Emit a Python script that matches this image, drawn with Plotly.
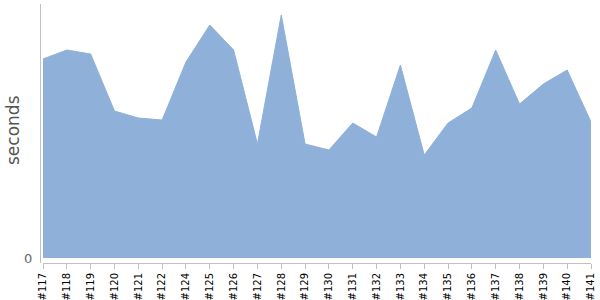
import plotly.graph_objects as go

builds = ["#117", "#118", "#119", "#120", "#121", "#122", "#124", "#125", "#126",
          "#127", "#128", "#129", "#130", "#131", "#132", "#133", "#134", "#135",
          "#136", "#137", "#138", "#139", "#140", "#141"]
seconds = [199, 208, 204, 147, 140, 138, 196, 233, 208, 114, 243, 114, 108, 135,
           121, 193, 103, 135, 150, 208, 154, 174, 188, 136]

W, H = 600, 300
fig = go.Figure()
fig.add_trace(go.Scatter(
    x=list(range(len(builds))), y=seconds, mode="lines", fill="tozeroy",
    line=dict(color="#8fb1d9", width=1), fillcolor="#8fb1d9",
    hoverinfo="skip", showlegend=False,
))

fig.update_layout(
    width=W, height=H, margin=dict(l=0, r=0, t=0, b=0),
    paper_bgcolor="white", plot_bgcolor="white",
    xaxis=dict(
        domain=[43 / W, 591 / W], range=[0, len(builds) - 1],
        tickmode="array", tickvals=list(range(len(builds))), ticktext=builds,
        tickangle=-90, tickfont=dict(family="DejaVu Sans", size=10, color="#000"),
        ticks="outside", ticklen=5, tickcolor="#c0c0c0",
        showline=True, linecolor="#c0c0c0", linewidth=1,
        showgrid=False, zeroline=False, automargin=False, fixedrange=True,
    ),
    yaxis=dict(
        domain=[(H - 263) / H, (H - 4) / H], range=[-5, 254],
        anchor="free", position=40 / W,
        tickmode="array", tickvals=[0], ticktext=["0"],
        tickfont=dict(family="DejaVu Sans", size=13, color="#666"),
        ticks="", ticklabelstandoff=5, showline=True, linecolor="#c0c0c0", linewidth=1,
        showgrid=False, zeroline=False, automargin=False, fixedrange=True,
    ),
    annotations=[dict(
        text="seconds", textangle=-90, x=13 / W, y=(H - 130) / H,
        xref="paper", yref="paper", xanchor="center", yanchor="middle",
        showarrow=False,
        font=dict(family="DejaVu Sans", size=17, color="#555"),
    )],
)

fig.write_html("out.html")
